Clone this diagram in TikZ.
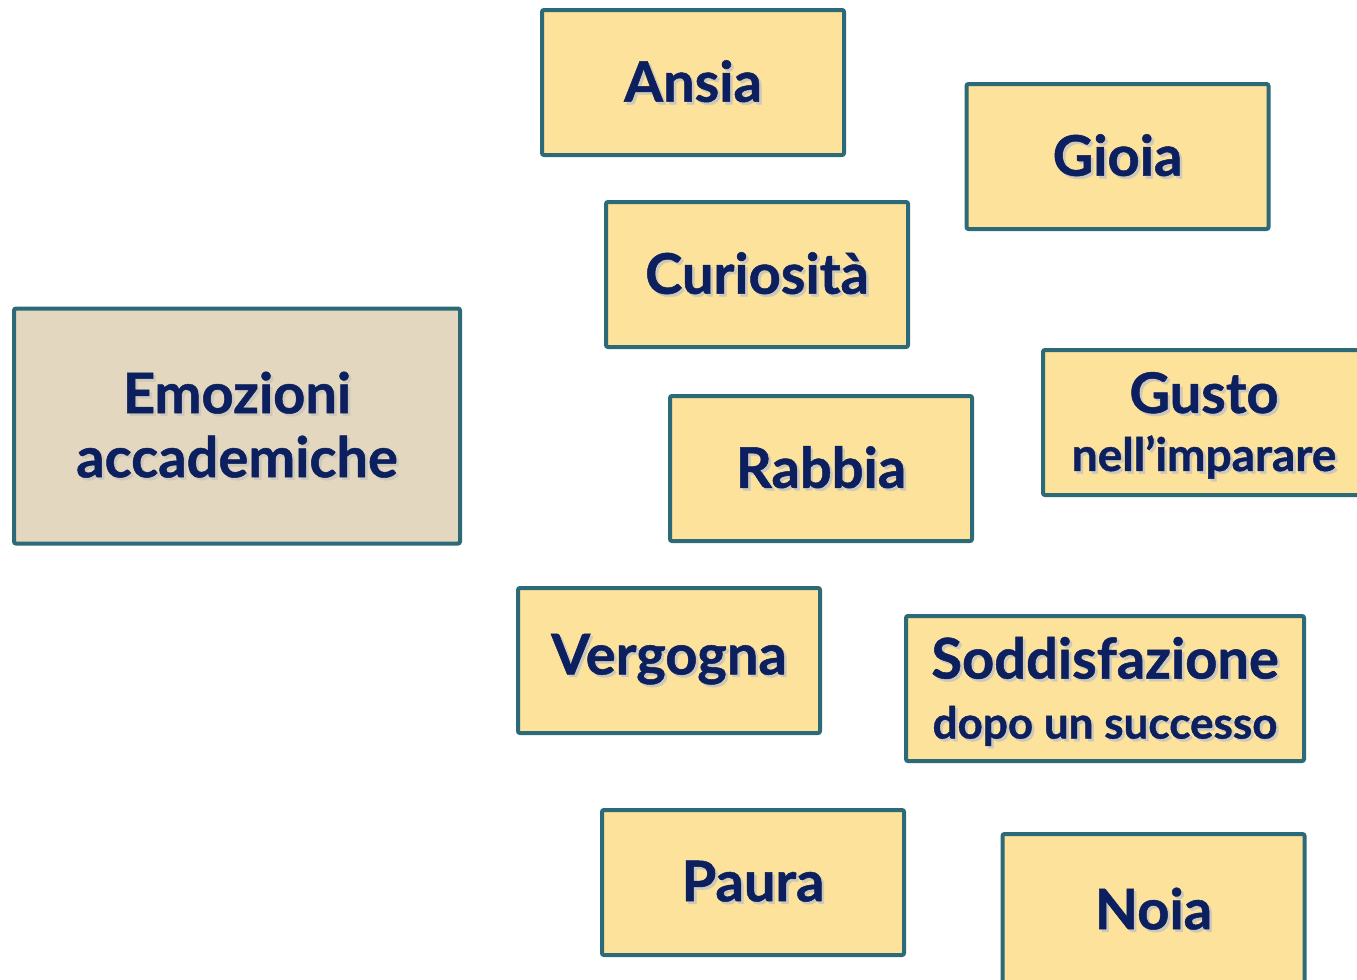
\documentclass[tikz,border=0pt]{standalone}
\usepackage{fontspec}
\setmainfont{Lato}[BoldFeatures={FakeBold=0.9}]
\usetikzlibrary{shapes}
\definecolor{boxfill}{HTML}{FDE29C}
\definecolor{boxedge}{HTML}{2C6A78}
\definecolor{rootfill}{HTML}{E3D7BF}
\definecolor{txtc}{HTML}{0C1F5E}
\definecolor{shadc}{HTML}{8F8466}
\newcommand\shd[1]{\leavevmode\rlap{\kern1.3pt\raisebox{-1.3pt}{\textcolor{shadc!45}{#1}}}#1}
\newcommand\subl[2][23]{{\fontsize{#1}{26}\selectfont\shd{#2}}}
\tikzstyle{emo}=[draw=boxedge, fill=boxfill, line width=2pt, rounded corners=1pt, minimum width=151pt, minimum height=72.5pt, inner sep=0pt, font=\bfseries\fontsize{28}{32}\selectfont, text=txtc, align=center]
\tikzstyle{root}=[emo, fill=rootfill, minimum width=223pt, minimum height=117.5pt]
\begin{document}
\begin{tikzpicture}[x=0.5pt,y=-0.5pt]
\useasboundingbox (0,0) rectangle (1357,980);
\clip (0,0) rectangle (1357,980);
% root
\node[root] (emoz) at (237,426) {\shd{Emozioni}\\\shd{accademiche}};
% emotions
\node[emo] (ansia) at (693,82.5) {\shd{Ansia}};
\node[emo] (gioia) at (1117.5,156.5) {\shd{Gioia}};
\node[emo] (curio) at (757,274.5) {\shd{Curiosità}};
\node[emo] (rabbia) at (821,468.5) {\shd{Rabbia}};
\node[emo, minimum width=161pt, text depth=1pt] (gusto) at (1204,422.5) {\shd{Gusto}\\[-3pt]\subl{nell’imparare}};
\node[emo] (vergo) at (669,660.5) {\shd{Vergogna}};
\node[emo, minimum width=199pt] (soddi) at (1105,688.5) {\rule{0pt}{25pt}\shd{Soddisfazione}\\[-2pt]\subl[22]{dopo un successo}};
\node[emo] (paura) at (753,882.5) {\shd{Paura}};
\node[emo, minimum height=76pt] (noia) at (1153.5,910) {\shd{Noia}};
\end{tikzpicture}
\end{document}
